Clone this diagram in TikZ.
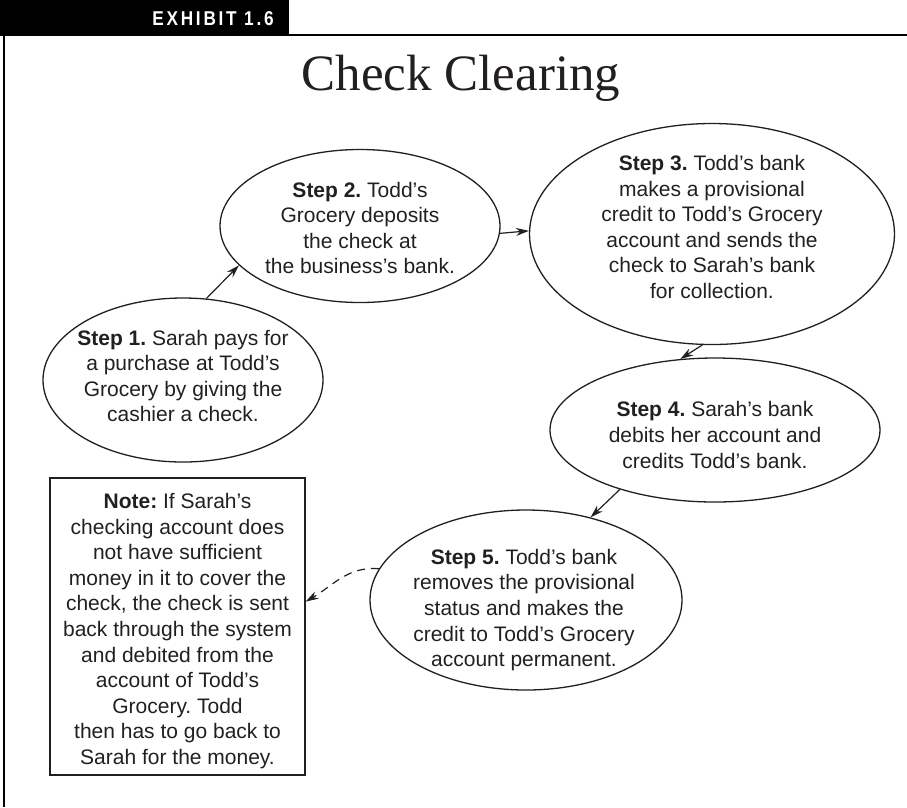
\documentclass[tikz,border=0pt]{standalone}
\usepackage{fontspec}
\usetikzlibrary{arrows.meta,shapes.geometric}
\newfontfamily\bodyfont{Liberation Sans}
\newfontfamily\titlefont{Liberation Serif}
\newfontfamily\headfont[LetterSpace=16]{Liberation Sans}
\definecolor{ink}{HTML}{231F20}
\frenchspacing
\begin{document}
\begin{tikzpicture}[x=1pt,y=-1pt,
  bubble/.style={draw=ink,line width=1.3pt,ellipse,inner sep=0pt},
  bubbletext/.style={align=center,inner sep=0pt,text=ink,font=\bodyfont\fontsize{21}{25.6}\selectfont},
  notebox/.style={draw=ink,line width=1.2pt,rectangle,inner sep=0pt,minimum width=255pt,minimum height=297pt},
  flow/.style={draw=ink,line width=1.2pt,-{Stealth[length=13pt,width=8pt]}},
  back/.style={flow,dashed,dash pattern=on 8pt off 6pt}]
\useasboundingbox (0,0) rectangle (907,807);
% frame
\fill[black] (0,0) rectangle (289,35);
\draw[black,line width=2.5pt] (0,35) -- (907,35);
\draw[black,line width=2.5pt] (4,35) -- (4,807);
\node[text=white,inner sep=0pt,anchor=base] (hdr) at (213,25)
  {\scalebox{0.86}[1]{\headfont\bfseries\fontsize{20}{20}\selectfont EXHIBIT 1.6}};
\node[text=ink,font=\titlefont\fontsize{51}{54}\selectfont,anchor=base] (title) at (461,90) {Check Clearing};
% step bubbles
\node[bubble,minimum width=280pt,minimum height=164pt] (s1) at (183,380) {};
\node[bubble,minimum width=280pt,minimum height=153pt] (s2) at (360,226) {};
\node[bubble,minimum width=365pt,minimum height=221pt] (s3) at (712,234) {};
\node[bubble,minimum width=330pt,minimum height=144pt] (s4) at (715,430) {};
\node[bubble,minimum width=312pt,minimum height=180pt] (s5) at (526,600) {};
\node[notebox] (note) at (177.5,626.5) {};
% texts
\node[bubbletext] (s1t) at (183,376)
  {\textbf{Step 1.} Sarah pays for\\a purchase at Todd’s\\Grocery by giving the\\cashier a check.};
\node[bubbletext] (s2t) at (360,228)
  {\textbf{Step 2.} Todd’s\\Grocery deposits\\the check at\\the business’s bank.};
\node[bubbletext] (s3t) at (712,227)
  {\textbf{Step 3.} Todd’s bank\\makes a provisional\\credit to Todd’s Grocery\\account and sends the\\check to Sarah’s bank\\for collection.};
\node[bubbletext] (s4t) at (715,435)
  {\textbf{Step 4.} Sarah’s bank\\debits her account and\\credits Todd’s bank.};
\node[bubbletext] (s5t) at (524,610)
  {\textbf{Step 5.} Todd’s bank\\removes the provisional\\status and makes the\\credit to Todd’s Grocery\\account permanent.};
\node[bubbletext] (notet) at (177.5,631)
  {\textbf{Note:} If Sarah’s\\checking account does\\not have sufficient\\money in it to cover the\\check, the check is sent\\back through the system\\and debited from the\\account of Todd’s\\Grocery. Todd\\then has to go back to\\Sarah for the money.};
% connectors
\draw[flow] (s1.74) -- (s2.198);
\draw[flow] (s2.-3) -- (s3.179);
\draw[flow] (s3.265) -- (s4.116);
\draw[flow] (s4.212) -- (s5.52);
\draw[back] (s5.168) to[out=175,in=30] (note.11);
\end{tikzpicture}
\end{document}
